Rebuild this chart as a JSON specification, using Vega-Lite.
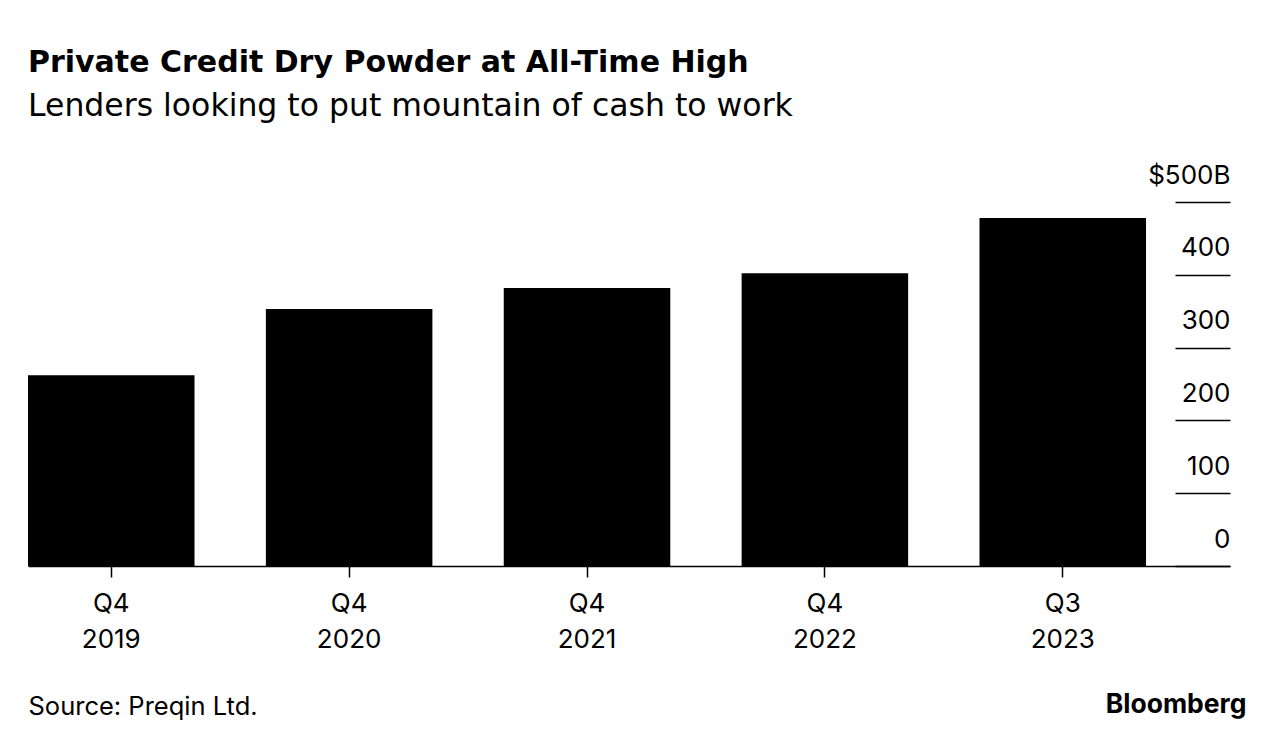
{
  "$schema": "https://vega.github.io/schema/vega-lite/v6.json",
  "width": 1202,
  "height": 364,
  "autosize": {"type": "none"},
  "padding": {"left": 28, "top": 202, "right": 55, "bottom": 180},
  "background": "white",
  "title": {
    "text": "Private Credit Dry Powder at All-Time High",
    "subtitle": "Lenders looking to put mountain of cash to work",
    "anchor": "start",
    "frame": "group",
    "font": "DejaVu Sans",
    "fontSize": 30,
    "fontWeight": "bold",
    "color": "#000000",
    "subtitleFont": "DejaVu Sans",
    "subtitleFontSize": 31.5,
    "subtitleFontWeight": "normal",
    "subtitleColor": "#000000",
    "subtitlePadding": 13,
    "offset": 40
  },
  "data": {
    "values": [
      {"period": "Q4 2019", "value": 262},
      {"period": "Q4 2020", "value": 353},
      {"period": "Q4 2021", "value": 382},
      {"period": "Q4 2022", "value": 402},
      {"period": "Q3 2023", "value": 478}
    ]
  },
  "mark": {"type": "bar", "color": "#000000"},
  "encoding": {
    "x": {
      "field": "period",
      "type": "nominal",
      "sort": null,
      "scale": {"paddingInner": 0.3, "paddingOuter": 0.1765, "align": 0},
      "axis": {
        "title": "Source: Preqin Ltd.",
        "titleX": 0,
        "titleY": 148,
        "titleAlign": "left",
        "titleBaseline": "alphabetic",
        "titleAnchor": null,
        "titleFont": "Inter",
        "titleFontSize": 25.5,
        "titleFontWeight": "normal",
        "titleColor": "#000000",
        "labelAngle": 0,
        "labelExpr": "split(datum.value, ' ')",
        "labelFont": "Inter",
        "labelFontSize": 26,
        "labelColor": "#000000",
        "labelLineHeight": 36,
        "labelBaseline": "top",
        "labelPadding": 13,
        "domain": true,
        "domainColor": "#000000",
        "domainWidth": 1.5,
        "ticks": true,
        "tickSize": 11,
        "tickColor": "#000000",
        "tickWidth": 1.5,
        "grid": false
      }
    },
    "y": {
      "field": "value",
      "type": "quantitative",
      "scale": {"domain": [0, 500], "nice": false, "zero": true},
      "axis": {
        "orient": "right",
        "values": [0, 100, 200, 300, 400, 500],
        "labelExpr": "datum.value == 500 ? '$500B' : datum.label",
        "title": "Bloomberg",
        "titleAngle": 0,
        "titleX": 16,
        "titleY": 510,
        "titleAlign": "right",
        "titleBaseline": "alphabetic",
        "titleAnchor": null,
        "titleFont": "Inter",
        "titleFontSize": 26.5,
        "titleFontWeight": "bold",
        "titleColor": "#000000",
        "domain": false,
        "grid": false,
        "ticks": true,
        "tickSize": -55,
        "tickColor": "#000000",
        "tickWidth": 1.5,
        "labelFont": "Inter",
        "labelFontSize": 26,
        "labelColor": "#000000",
        "labelAlign": "right",
        "labelBaseline": "middle",
        "labelOffset": -27,
        "labelPadding": 55,
        "labelFlush": false,
        "labelOverlap": false
      }
    }
  },
  "config": {
    "view": {"stroke": null},
    "font": "Inter"
  }
}
